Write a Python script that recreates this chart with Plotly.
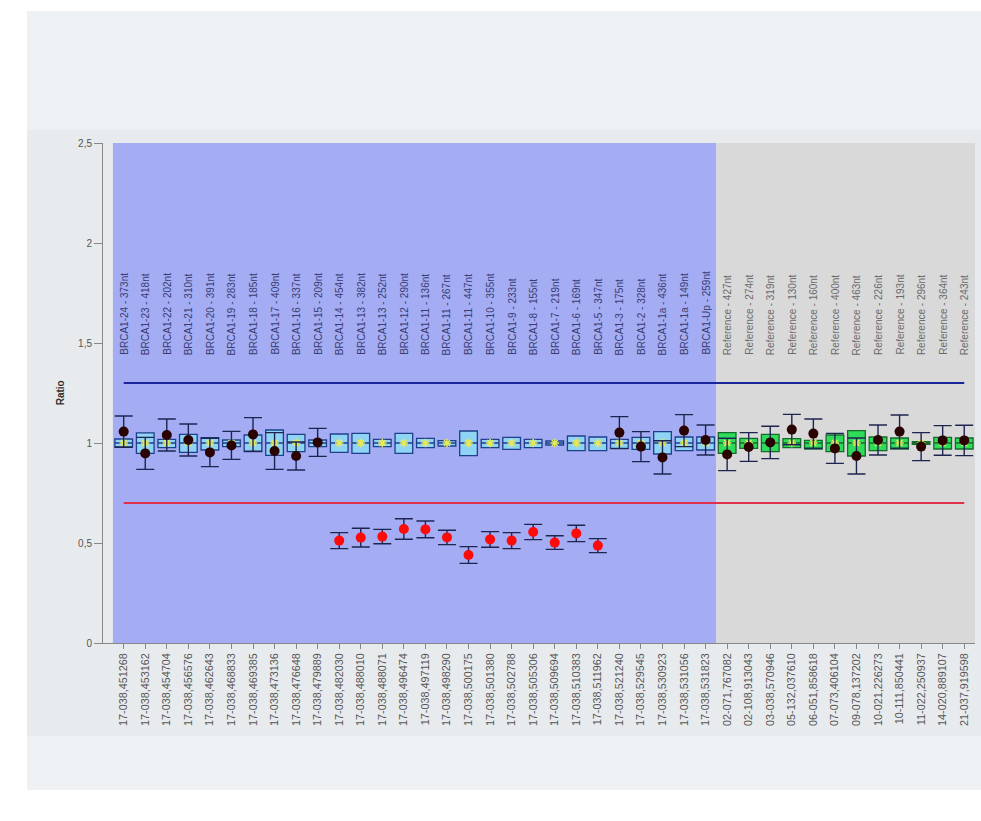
import plotly.graph_objects as go

# ---------------- data ----------------
amplicons = [
    "BRCA1-24 - 373nt", "BRCA1-23 - 418nt", "BRCA1-22 - 202nt", "BRCA1-21 - 310nt",
    "BRCA1-20 - 391nt", "BRCA1-19 - 283nt", "BRCA1-18 - 185nt", "BRCA1-17 - 409nt",
    "BRCA1-16 - 337nt", "BRCA1-15 - 209nt", "BRCA1-14 - 454nt", "BRCA1-13 - 382nt",
    "BRCA1-13 - 252nt", "BRCA1-12 - 290nt", "BRCA1-11 - 136nt", "BRCA1-11 - 267nt",
    "BRCA1-11 - 447nt", "BRCA1-10 - 355nt", "BRCA1-9 - 233nt", "BRCA1-8 - 155nt",
    "BRCA1-7 - 219nt", "BRCA1-6 - 169nt", "BRCA1-5 - 347nt", "BRCA1-3 - 175nt",
    "BRCA1-2 - 328nt", "BRCA1-1a - 436nt", "BRCA1-1a - 149nt", "BRCA1-Up - 259nt",
    "Reference - 427nt", "Reference - 274nt", "Reference - 319nt", "Reference - 130nt",
    "Reference - 160nt", "Reference - 400nt", "Reference - 463nt", "Reference - 226nt",
    "Reference - 193nt", "Reference - 296nt", "Reference - 364nt", "Reference - 243nt",
]
positions = [
    "17-038,451268", "17-038,453162", "17-038,454704", "17-038,456576", "17-038,462643",
    "17-038,468833", "17-038,469385", "17-038,473136", "17-038,476648", "17-038,479889",
    "17-038,482030", "17-038,488010", "17-038,488071", "17-038,496474", "17-038,497119",
    "17-038,498290", "17-038,500175", "17-038,501380", "17-038,502788", "17-038,505306",
    "17-038,509694", "17-038,510383", "17-038,511962", "17-038,521240", "17-038,529545",
    "17-038,530923", "17-038,531056", "17-038,531823",
    "02-071,767082", "02-108,913043", "03-038,570946", "05-132,037610", "06-051,858618",
    "07-073,406104", "09-078,137202", "10-021,226273", "10-111,850441", "11-022,250937",
    "14-020,889107", "21-037,919598",
]
n_target = 28  # BRCA1 amplicons, the rest are reference amplicons

box_q1 = [0.980, 0.948, 0.977, 0.953, 0.965, 0.982, 0.957, 0.938, 0.957, 0.982,
          0.953, 0.948, 0.982, 0.948, 0.977, 0.985, 0.937, 0.977, 0.968, 0.977,
          0.990, 0.962, 0.962, 0.973, 0.968, 0.945, 0.962, 0.965,
          0.948, 0.973, 0.957, 0.977, 0.970, 0.957, 0.935, 0.962, 0.970, 0.993,
          0.970, 0.970]
box_q3 = [1.020, 1.051, 1.018, 1.043, 1.027, 1.015, 1.040, 1.065, 1.043, 1.015,
          1.045, 1.048, 1.018, 1.048, 1.023, 1.012, 1.060, 1.018, 1.028, 1.018,
          1.010, 1.035, 1.030, 1.018, 1.028, 1.057, 1.030, 1.030,
          1.052, 1.023, 1.043, 1.022, 1.013, 1.040, 1.062, 1.030, 1.025, 1.007,
          1.028, 1.025]
box_median = [1.0] * 40
box_mean = [1.0] * 40

sample_ratio = [1.057, 0.948, 1.040, 1.015, 0.953, 0.988, 1.043, 0.960, 0.935, 1.003,
                0.512, 0.527, 0.532, 0.570, 0.568, 0.528, 0.440, 0.518, 0.512, 0.555,
                0.502, 0.548, 0.487, 1.052, 0.982, 0.928, 1.062, 1.015,
                0.943, 0.980, 1.003, 1.067, 1.047, 0.973, 0.935, 1.015, 1.057, 0.982,
                1.013, 1.013]
sample_err = [0.078, 0.080, 0.080, 0.080, 0.071, 0.070, 0.084, 0.092, 0.070, 0.070,
              0.040, 0.047, 0.036, 0.051, 0.042, 0.036, 0.042, 0.039, 0.040, 0.038,
              0.034, 0.041, 0.035, 0.080, 0.075, 0.083, 0.080, 0.075,
              0.081, 0.072, 0.081, 0.076, 0.073, 0.075, 0.090, 0.075, 0.083, 0.070,
              0.074, 0.076]

upper_threshold = 1.3
lower_threshold = 0.7

y_ticks = [0, 0.5, 1, 1.5, 2, 2.5]
y_ticktext = ["0", "0,5", "1", "1,5", "2", "2,5"]

# ---------------- figure ----------------
idx = list(range(len(amplicons)))
tgt = idx[:n_target]
ref = idx[n_target:]

fig = go.Figure()

def add_box(ids, fill, line):
    fig.add_trace(go.Box(
        x=ids,
        q1=[box_q1[i] for i in ids], q3=[box_q3[i] for i in ids],
        median=[box_median[i] for i in ids],
        lowerfence=[box_q1[i] for i in ids], upperfence=[box_q3[i] for i in ids],
        fillcolor=fill, line=dict(color=line, width=1.3), whiskerwidth=0,
        width=0.82, boxpoints=False, hoverinfo="skip", showlegend=False,
    ))

add_box(tgt, "#8fd3f5", "#1f3f8a")
add_box(ref, "#2fdc5a", "#166a2c")

# mean markers
fig.add_trace(go.Scatter(
    x=idx, y=box_mean, mode="markers",
    marker=dict(symbol="asterisk-open", size=7, color="#e4ea5a",
                line=dict(color="#e4ea5a", width=1.6)),
    showlegend=False, hoverinfo="skip",
))

# threshold lines
fig.add_trace(go.Scatter(x=[idx[0], idx[-1]], y=[upper_threshold] * 2, mode="lines",
                         line=dict(color="#1b259c", width=2), showlegend=False))
fig.add_trace(go.Scatter(x=[idx[0], idx[-1]], y=[lower_threshold] * 2, mode="lines",
                         line=dict(color="#e0304c", width=2), showlegend=False))

# sample ratios
normal = [i for i in idx if sample_ratio[i] >= lower_threshold]
deleted = [i for i in idx if sample_ratio[i] < lower_threshold]
for ids, col in ((normal, "#2a0202"), (deleted, "#ff0a0a")):
    fig.add_trace(go.Scatter(
        x=ids, y=[sample_ratio[i] for i in ids], mode="markers",
        marker=dict(color=col, size=10),
        error_y=dict(type="data", array=[sample_err[i] for i in ids],
                     color="#1e2450", thickness=1.4, width=9),
        showlegend=False,
    ))

# amplicon labels inside the plot
for i in idx:
    fig.add_annotation(
        x=i, y=1.43, xref="x", yref="y", text=amplicons[i], textangle=-90,
        showarrow=False, yanchor="bottom", xanchor="center",
        font=dict(family="Liberation Sans, Arial", size=10,
                  color="#3a3c72" if i < n_target else "#6a6a6a"),
    )

fig.add_annotation(x=-0.049, y=0.5, xref="paper", yref="paper", text="<b>Ratio</b>",
                   textangle=-90, showarrow=False, xanchor="center", yanchor="middle",
                   font=dict(family="Liberation Sans, Arial", size=10, color="#333"))

L, R, T, B = 103, 6, 143, 178
W, H = 981, 821
pw, ph = W - L - R, H - T - B

def px(xp):
    return (xp - L) / pw

def py(yp):
    return (H - B - yp) / ph

shapes = [
    dict(type="rect", xref="paper", yref="paper", x0=px(27), x1=px(981), y0=py(790), y1=py(11),
         fillcolor="#eef1f4", line=dict(width=0), layer="below"),
    dict(type="rect", xref="paper", yref="paper", x0=px(27), x1=px(981), y0=py(736), y1=py(130),
         fillcolor="#e8ebee", line=dict(width=0), layer="below"),
    dict(type="rect", xref="x", yref="y", x0=-0.5, x1=n_target - 0.5, y0=0, y1=2.5,
         fillcolor="#a4adf4", line=dict(width=0), layer="below"),
    dict(type="rect", xref="x", yref="y", x0=n_target - 0.5, x1=len(idx) - 0.5, y0=0, y1=2.5,
         fillcolor="#d9d9da", line=dict(width=0), layer="below"),
]

fig.update_layout(
    width=W, height=H,
    margin=dict(l=L, r=R, t=T, b=B, pad=0),
    paper_bgcolor="white", plot_bgcolor="rgba(0,0,0,0)",
    shapes=shapes, showlegend=False,
    font=dict(family="Liberation Sans, Arial", size=10, color="#555"),
    xaxis=dict(range=[-0.96, len(idx) - 0.5], tickvals=idx, ticktext=positions,
               tickangle=-90, showgrid=False, zeroline=False, showline=True,
               linecolor="#888", ticks="outside", ticklen=5, tickcolor="#888",
               tickfont=dict(size=10.8, color="#555")),
    yaxis=dict(range=[0, 2.5], tickvals=y_ticks, ticktext=y_ticktext, showgrid=False,
               zeroline=False, showline=True, linecolor="#888", ticks="outside",
               ticklen=8, tickcolor="#888", tickfont=dict(size=10, color="#555")),
)

fig.write_html("out.html",
               config={"displayModeBar": False},
               post_script="document.body.style.margin='0px';"
                           "document.body.style.overflow='hidden';")
